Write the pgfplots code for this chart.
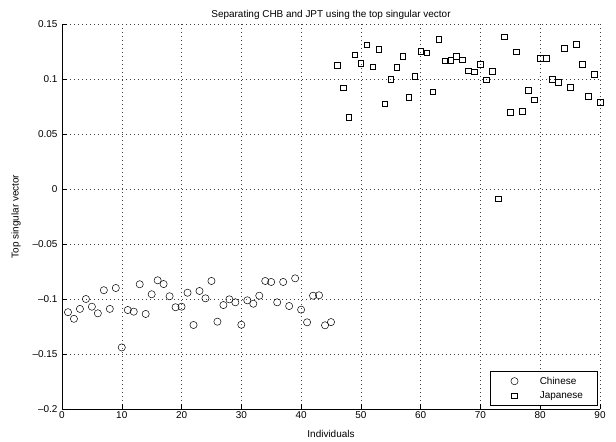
\documentclass[border=0pt]{standalone}
\usepackage{pgfplots}
\pgfplotsset{compat=1.18}
\usepackage{fontspec}
\setmainfont{Liberation Sans}
\pgfplotsset{
  mymarklegend/.style={legend image code/.code={\path (0bp,0bp) (35bp,0bp); \draw[##1] plot coordinates {(17bp,0bp)};}}
}
\pgfplotstableread{
x y
1 -0.112
2 -0.118
3 -0.109
4 -0.100
5 -0.107
6 -0.113
7 -0.092
8 -0.109
9 -0.090
10 -0.144
11 -0.110
12 -0.1115
13 -0.0866
14 -0.1136
15 -0.0957
16 -0.083
17 -0.0864
18 -0.0975
19 -0.1075
20 -0.107
21 -0.0943
22 -0.1236
23 -0.0927
24 -0.0994
25 -0.0836
26 -0.1206
27 -0.1055
28 -0.1003
29 -0.103
30 -0.1234
31 -0.1012
32 -0.1043
33 -0.097
34 -0.0836
35 -0.0845
36 -0.103
37 -0.0845
38 -0.1064
39 -0.0812
40 -0.1097
41 -0.1212
42 -0.097
43 -0.0966
44 -0.1239
45 -0.121
}\chinese
\pgfplotstableread{
x y
46 0.1127
47 0.0921
48 0.0652
49 0.1221
50 0.1145
51 0.1312
52 0.1112
53 0.127
54 0.0776
55 0.100
56 0.1109
57 0.1209
58 0.0834
59 0.1024
60 0.1252
61 0.1239
62 0.0885
63 0.1361
64 0.1167
65 0.117
66 0.1206
67 0.1176
68 0.1076
69 0.1066
70 0.1136
71 0.0994
72 0.107
73 -0.009
74 0.1385
75 0.0697
76 0.1248
77 0.0706
78 0.090
79 0.0812
80 0.1188
81 0.1188
82 0.100
83 0.097
84 0.1279
85 0.0927
86 0.1318
87 0.1133
88 0.0843
89 0.1045
90 0.0788
}\japanese
\begin{document}
\begin{tikzpicture}
\begin{axis}[
  scale only axis,
  width=538bp, height=385bp,
  xmin=0, xmax=90, ymin=-0.2, ymax=0.15,
  axis x line*=bottom, axis y line*=left,
  axis line style={-, line width=0.6pt},
  tick align=inside,
  major tick length=5bp,
  tick style={line width=0.5pt, black},
  xtick={0,10,...,90},
  ytick={-0.2,-0.15,-0.1,-0.05,0,0.05,0.1,0.15},
  yticklabels={\textendash0.2,\textendash0.15,\textendash0.1,\textendash0.05,0,0.05,0.1,0.15},
  /pgf/number format/assume math mode=true,
  ticklabel style={font=\fontsize{10}{12}\selectfont},
  xticklabel style={yshift=1bp},
  yticklabel style={xshift=-1bp},
  grid=major,
  major grid style={black!75, dash pattern=on 0.7bp off 3.3bp, line width=0.5pt},
  title={Separating CHB and JPT using the top singular vector},
  title style={font=\fontsize{10}{12}\selectfont, yshift=-5bp},
  xlabel={Individuals},
  ylabel={Top singular vector},
  label style={font=\fontsize{10}{12}\selectfont},
  xlabel style={yshift=-5bp},
  ylabel style={yshift=5bp},
  legend style={font=\fontsize{10}{12}\selectfont, at={(rel axis cs:0.995,0.01)}, anchor=south east, draw=black, line width=0.6pt, inner xsep=7bp, inner ysep=3.5bp, row sep=3bp, nodes={inner xsep=7bp, inner ysep=1.5bp}, cells={anchor=west}},
  legend cell align=left,
]
\coordinate (bl) at (rel axis cs:0,0);
\coordinate (tr) at (rel axis cs:1,1);
\addplot[only marks, mark=o, mark size=3.6bp, mark options={line width=0.5pt, black}, mymarklegend] table {\chinese};
\addlegendentry{Chinese}
\addplot[only marks, mark=square, mark size=2.8bp, mark options={line width=0.5pt, black}, mymarklegend] table {\japanese};
\addlegendentry{Japanese}
\end{axis}
\path (bl) ++(-62bp,-32bp) coordinate (A);
\path (tr) ++(16bp,24bp) coordinate (B);
\pgfresetboundingbox
\path[use as bounding box] (A) rectangle (B);
\end{tikzpicture}
\end{document}
